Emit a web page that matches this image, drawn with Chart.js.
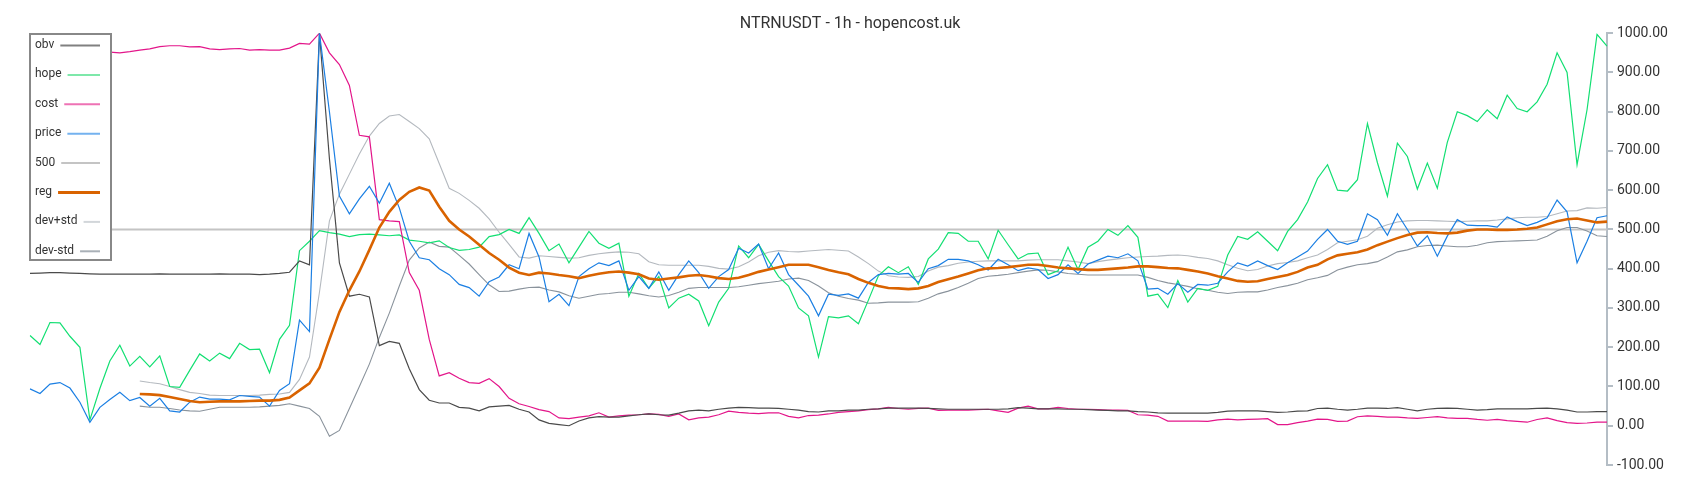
<!DOCTYPE html>
<html>
<head>
<meta charset="utf-8">
<script src="https://cdn.jsdelivr.net/npm/chart.js@4.4.0/dist/chart.umd.min.js"></script>
<style>
html,body{margin:0;padding:0;background:#fff}
</style>
</head>
<body>
<canvas id="myChart" width="1700" height="500"></canvas>
<script>
// values, one per hour
const obv = [
388,389,390,390,389,388,387,386,386,386,
386,386,386,387,386,386,386,386,386,387,
386,386,386,385,386,388,391,420,410,1000,
680,415,330,335,328,204,215,210,145,92,
65,58,58,47,45,38,48,50,52,42,
35,15,6,3,0,12,20,23,22,22,
25,28,30,28,27,32,38,40,38,42,
45,47,46,45,45,44,42,40,36,35,
38,38,40,40,42,43,45,45,45,45,
44,43,42,42,42,42,42,42,43,46,
45,43,43,43,42,42,41,40,39,38,
38,36,35,33,32,32,32,32,32,34,
37,38,38,38,36,34,35,37,38,44,
45,42,40,42,45,45,44,46,42,38,
42,44,45,44,42,40,41,43,43,43,
43,44,45,43,40,35,35,36,36];

const hope = [
230,207,263,262,228,200,15,95,165,205,
152,177,150,178,100,98,141,183,165,185,
171,210,194,195,135,220,256,446,470,497,
492,488,482,487,488,486,484,486,473,470,
466,471,454,447,449,455,482,487,500,490,
530,490,446,463,415,455,495,465,452,465,
330,388,350,380,300,325,335,318,255,315,
350,458,428,462,420,380,356,300,280,175,
278,275,280,260,320,382,405,390,405,360,
425,450,492,490,470,470,425,498,461,425,
438,440,385,395,455,398,455,470,500,485,
510,480,330,335,301,370,315,350,345,355,
435,482,475,494,470,446,495,525,570,630,
665,600,598,627,770,670,585,720,686,603,
669,605,722,800,790,775,805,782,842,808,
800,825,870,950,900,665,805,997,967];

const cost = [
950,950,952,953,955,955,953,952,952,950,
953,957,960,966,968,968,965,966,960,958,
960,961,957,958,957,957,962,974,972,1000,
950,920,867,740,736,525,522,520,390,345,
220,127,135,121,110,108,120,100,70,56,
49,41,36,20,18,22,25,33,22,25,
27,28,30,29,24,30,15,20,22,28,
37,34,32,31,33,33,24,20,26,27,
30,34,36,38,41,43,47,44,42,44,
45,39,40,40,40,41,42,38,34,45,
50,43,43,47,44,42,42,41,40,40,
39,28,27,24,12,12,12,12,11,15,
17,15,16,17,18,3,3,8,12,17,
16,11,12,23,25,24,22,22,20,19,
21,23,20,19,19,16,14,16,13,11,
9,16,20,13,8,6,7,9,9];

const price = [
94,82,106,110,96,60,9,47,67,85,
64,72,50,70,38,35,60,73,68,68,
66,77,75,73,50,90,107,269,240,1000,
800,585,540,578,610,567,618,555,470,428,
423,400,385,360,352,330,367,379,410,400,
490,430,316,335,306,380,400,415,408,420,
345,380,350,392,345,385,420,390,350,380,
398,452,440,463,400,440,385,358,330,280,
335,332,336,325,365,385,388,386,388,365,
400,408,424,424,420,410,397,424,410,395,
402,398,375,385,410,388,412,422,432,428,
438,420,348,350,335,362,340,360,358,363,
392,415,407,420,408,398,415,430,445,475,
500,470,462,470,540,525,485,540,500,458,
484,432,483,525,511,510,510,506,532,520,
510,518,530,575,545,415,470,530,535];

const reg = [
null,null,null,null,null,null,null,null,null,null,
null,81,80,78,73,68,63,60,61,62,
62,62,63,64,64,66,72,90,108,148,
220,290,345,393,448,505,545,575,596,607,
599,558,522,500,482,461,440,423,403,390,
384,390,388,384,381,376,382,387,391,393,
390,386,375,372,375,378,382,384,381,376,
374,377,384,392,398,404,410,410,410,404,
397,391,386,374,364,356,351,350,348,350,
356,366,373,380,388,396,401,402,404,407,
410,410,407,403,401,399,397,397,399,401,
403,406,406,404,402,401,397,393,388,381,
375,369,367,368,374,379,384,392,403,410,
424,434,438,442,449,460,469,478,486,492,
493,491,490,492,497,500,500,499,499,500,
502,505,513,521,526,528,523,518,520];

const devPlus = [
null,null,null,null,null,null,null,null,null,null,
null,114,110,107,100,92,85,82,78,77,
77,77,77,78,80,81,85,118,175,340,
522,590,641,692,738,770,789,793,775,757,
731,668,605,592,574,554,527,493,462,430,
427,433,431,429,427,428,434,438,441,443,
442,438,418,410,409,409,409,409,406,401,
399,405,417,433,442,446,444,443,445,447,
449,447,445,430,413,394,382,379,378,380,
394,404,408,414,417,419,420,420,420,420,
422,423,423,423,420,417,413,418,422,425,
428,430,431,432,434,435,433,429,426,420,
410,401,395,398,407,413,416,420,428,435,
449,466,470,474,483,503,512,519,522,523,
523,522,521,520,521,522,522,524,527,530,
531,531,533,540,547,548,555,554,556];

const devMinus = [
null,null,null,null,null,null,null,null,null,null,
null,50,47,47,44,40,38,37,42,47,
47,47,47,48,50,52,56,50,44,24,
-27,-12,44,100,157,225,287,356,422,453,
468,457,455,434,412,385,359,342,343,348,
352,353,346,341,331,325,330,335,337,340,
340,336,331,328,332,340,350,352,352,352,
352,354,358,362,365,368,374,376,370,356,
339,330,324,320,312,313,315,315,315,316,
325,336,343,352,363,375,381,383,386,390,
394,397,396,392,388,386,384,384,384,384,
384,384,378,370,364,360,355,349,345,340,
337,340,341,341,346,352,357,363,372,377,
383,397,404,410,413,418,430,443,448,456,
459,460,458,456,456,460,466,469,470,471,
472,473,483,497,505,505,496,484,482];

const labels = price.map((v, i) => i);
const level = price.map(() => 500);

const yTicksMin = -100;
const yTicksMax = 1000;
const yTicksStep = 100;

function line(label, data, color, legendColor, width, order) {
    return {
        label: label,
        data: data,
        borderColor: color,
        backgroundColor: color,
        legendColor: legendColor,
        borderWidth: width,
        pointRadius: 0,
        tension: 0,
        order: order
    };
}

// legend box drawn over the lines, text left and sample right
const boxLegend = {
    id: 'boxLegend',
    afterDatasetsDraw(chart) {
        const ctx = chart.ctx;
        ctx.save();
        ctx.fillStyle = '#fff';
        ctx.fillRect(30, 34, 81, 226);
        ctx.strokeStyle = '#888';
        ctx.lineWidth = 2;
        ctx.strokeRect(30, 34, 81, 226);
        ctx.font = '12px Roboto';
        ctx.textBaseline = 'middle';
        chart.data.datasets.forEach((ds, k) => {
            const y = 45 + k * 29.4;
            ctx.fillStyle = '#333';
            ctx.fillText(ds.label, 35, y);
            const w = ctx.measureText(ds.label).width;
            ctx.strokeStyle = ds.legendColor;
            ctx.lineWidth = ds.borderWidth > 2 ? 3 : 2;
            ctx.beginPath();
            ctx.moveTo(35 + w + 6, y + 0.5);
            ctx.lineTo(100, y + 0.5);
            ctx.stroke();
        });
        ctx.restore();
    }
};

const ctx = document.getElementById('myChart');
const myChart = new Chart(ctx, {
    type: 'line',
    data: {
        labels: labels,
        datasets: [
            line('obv', obv, '#4a4a4a', '#808080', 1.2, 3),
            line('hope', hope, '#12df72', '#7ee8aa', 1.2, 5),
            line('cost', cost, '#e3168a', '#ee72b4', 1.2, 4),
            line('price', price, '#1b7fe3', '#74b2ef', 1.2, 2),
            line('500', level, '#c4c4c4', '#c4c4c4', 2, 8),
            line('reg', reg, '#d96300', '#d96300', 2.6, 1),
            line('dev+std', devPlus, '#b4b9bf', '#d2d6da', 1.1, 6),
            line('dev-std', devMinus, '#8a939c', '#a9b0b7', 1.1, 7)
        ]
    },
    plugins: [boxLegend],
    options: {
        responsive: false,
        animation: false,
        devicePixelRatio: 1,
        layout: {
            padding: {left: 30, right: 30, top: 3, bottom: 35}
        },
        plugins: {
            legend: {display: false},
            tooltip: {enabled: false},
            title: {
                display: true,
                text: 'NTRNUSDT - 1h - hopencost.uk',
                color: '#333',
                font: {family: 'Roboto', size: 16, weight: 'normal'},
                padding: {top: 11, bottom: 0}
            }
        },
        scales: {
            x: {display: false, offset: false},
            y: {
                position: 'right',
                min: yTicksMin,
                max: yTicksMax,
                ticks: {
                    stepSize: yTicksStep,
                    color: '#333',
                    padding: 4,
                    font: {family: 'Roboto', size: 14},
                    callback: v => v.toFixed(2)
                },
                grid: {drawOnChartArea: false, drawTicks: true, tickLength: 6, color: '#b4bdc5', lineWidth: 2},
                border: {display: true, color: '#b4bdc5', width: 2},
                afterFit(s) { s.width = 63; }
            }
        }
    }
});
</script>
</body>
</html>
